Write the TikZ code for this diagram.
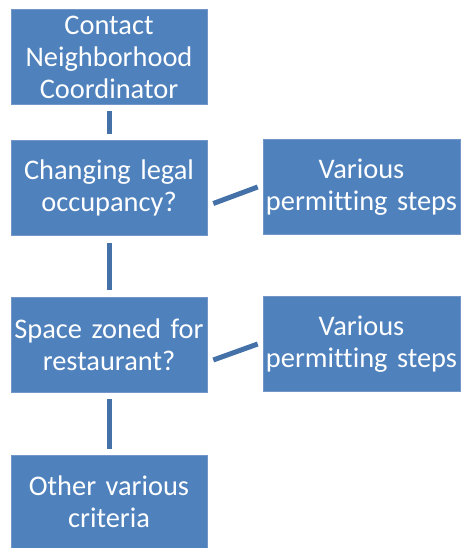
\documentclass[tikz,border=0pt]{standalone}
\usepackage{fontspec}
\setmainfont[Ligatures={NoCommon}]{Carlito}
\definecolor{boxfill}{HTML}{4F81BD}
\definecolor{boxline}{HTML}{7396C8}
\definecolor{connc}{HTML}{4471A8}
\begin{document}
\begin{tikzpicture}[x=1pt,y=-1pt,
  box/.style={rectangle, fill=boxfill, draw=boxline, line width=0.6pt, inner sep=0pt,
    minimum width=196pt, minimum height=95pt, text width=196pt, align=center,
    text=white, font=\fontsize{28.4}{32}\selectfont},
  conn/.style={draw=connc, line width=5pt}]
\useasboundingbox (0,0) rectangle (461,548);
\node[box] (b1) at (109,57) {Contact\\Neighborhood\\Coordinator};
\node[box] (b2) at (109,187.5) {Changing legal\\occupancy?};
\node[box, minimum width=197pt, text width=197pt] (b3) at (361.5,187) {Various\\permitting steps};
\node[box] (b4) at (109,345) {Space zoned for\\restaurant?};
\node[box, minimum width=197pt, text width=197pt] (b5) at (361.5,344) {Various\\permitting steps};
\node[box, minimum height=93pt] (b6) at (109,501.5) {Other various\\criteria};
\draw[conn] ([yshift=-6pt]b1.south) -- ([yshift=6pt]b2.north);
\draw[conn] ([yshift=-8pt]b2.south) -- ([yshift=7pt]b4.north);
\draw[conn] ([yshift=-6pt]b4.south) -- ([yshift=6pt]b6.north);
\draw[conn] ([xshift=6pt,yshift=-16pt]b2.east) -- ([xshift=-5pt]b3.west);
\draw[conn] ([xshift=6pt,yshift=-15pt]b4.east) -- ([xshift=-5pt]b5.west);
\end{tikzpicture}
\end{document}
